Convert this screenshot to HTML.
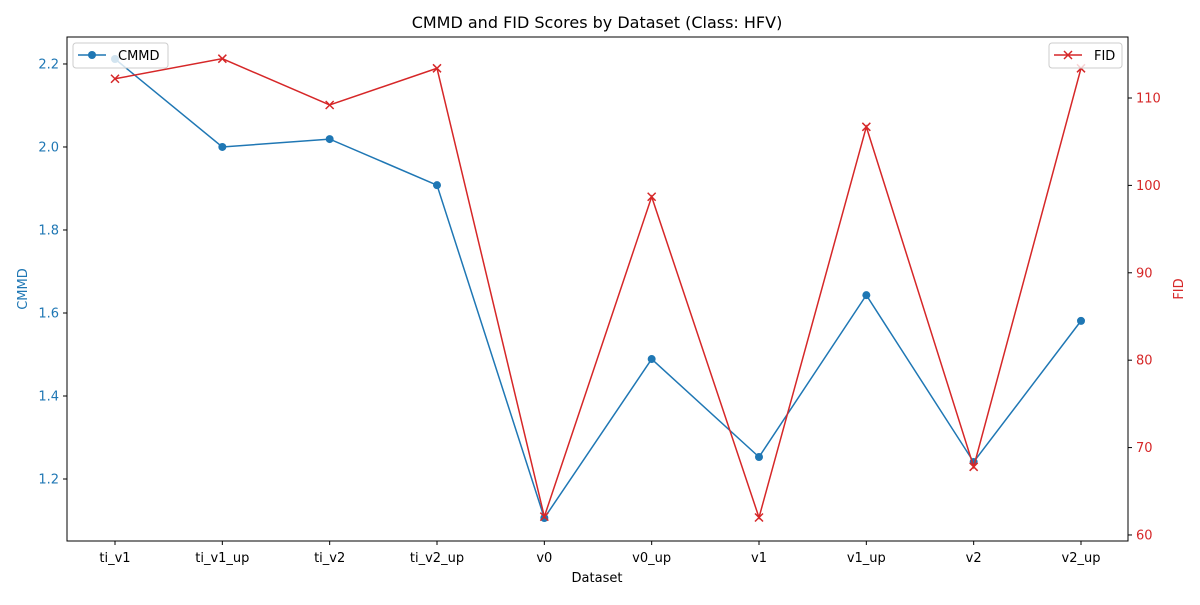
<!DOCTYPE html>
<html><head><meta charset="utf-8"><style>
body{margin:0;background:#fff;font-family:"Liberation Sans","DejaVu Sans",sans-serif;}
svg text{font-family:"DejaVu Sans","Liberation Sans",sans-serif;}
</style></head><body>
<svg id="chart" width="1200" height="600" xmlns="http://www.w3.org/2000/svg"></svg>
<script>
const categories=["ti_v1","ti_v1_up","ti_v2","ti_v2_up","v0","v0_up","v1","v1_up","v2","v2_up"];
const cmmdValues=[2.212,2.0,2.019,1.908,1.106,1.489,1.253,1.643,1.241,1.581];
const fidValues=[112.2,114.5,109.2,113.4,62.1,98.7,62.0,106.7,67.8,113.4];
const leftTicks=[1.2,1.4,1.6,1.8,2.0,2.2];
const rightTicks=[60,70,80,90,100,110];
const L=67,R=1128,T=37,B=541;
const lMin=1.0506,lMax=2.265,rMin=59.31,rMax=116.98;
const xs=i=>115+i*(1081-115)/(categories.length-1);
const yl=v=>B-(v-lMin)/(lMax-lMin)*(B-T);
const yr=v=>B-(v-rMin)/(rMax-rMin)*(B-T);
const svg=document.getElementById('chart');
const NS="http://www.w3.org/2000/svg";
function mk(tag,attrs,parent){const e=document.createElementNS(NS,tag);for(const k in attrs)e.setAttribute(k,attrs[k]);(parent||svg).appendChild(e);return e;}
function tx(x,y,s,attrs){const e=mk('text',Object.assign({x:x,y:y,'font-size':13},attrs));e.textContent=s;return e;}
const blue="#1f77b4",red="#d62728";
const frame=mk('rect',{x:L,y:T,width:R-L,height:B-T,fill:'none',stroke:'#000','stroke-width':1});


categories.forEach((c,i)=>{
 mk('line',{x1:xs(i),x2:xs(i),y1:B,y2:B+4,stroke:'#000'});
 const t=tx(xs(i),B+21,c,{'text-anchor':'middle',fill:'#000'});
 
 
});
leftTicks.forEach(v=>{
 mk('line',{x1:L-4,x2:L,y1:yl(v),y2:yl(v),stroke:'#000'});
 const t=tx(L-8,yl(v)+4.5,v.toFixed(1),{'text-anchor':'end',fill:blue});
 
 
});
rightTicks.forEach(v=>{
 mk('line',{x1:R,x2:R+4,y1:yr(v),y2:yr(v),stroke:'#000'});
 const t=tx(R+8,yr(v)+4.5,String(v),{'text-anchor':'start',fill:red});
 
 
});
const title=tx(597,28,"CMMD and FID Scores by Dataset (Class: HFV)",{'text-anchor':'middle','font-size':16});


const xt=tx(597,582,"Dataset",{'text-anchor':'middle'});


const ylt=tx(27,289,"CMMD",{'text-anchor':'middle',fill:blue,transform:'rotate(-90 27 289)'});


const yrt=tx(1183,289,"FID",{'text-anchor':'middle',fill:red,transform:'rotate(-90 1183 289)'});


const cl=mk('polyline',{points:cmmdValues.map((v,i)=>xs(i)+','+yl(v)).join(' '),fill:'none',stroke:blue,'stroke-width':1.5});


cmmdValues.forEach((v,i)=>{
 const c=mk('circle',{cx:xs(i),cy:yl(v),r:4,fill:blue});
 
 
});
const fl=mk('polyline',{points:fidValues.map((v,i)=>xs(i)+','+yr(v)).join(' '),fill:'none',stroke:red,'stroke-width':1.5});


fidValues.forEach((v,i)=>{
 const x=xs(i),y=yr(v);
 const g=mk('path',{d:`M${x-4},${y-4}L${x+4},${y+4}M${x-4},${y+4}L${x+4},${y-4}`,stroke:red,'stroke-width':1.5});
 
 
});
const lg1=mk('g',{});


mk('rect',{x:73,y:43,width:95,height:25,rx:3,fill:'#fff','fill-opacity':0.8,stroke:'#ccc'},lg1);
mk('line',{x1:78,x2:106,y1:55,y2:55,stroke:blue,'stroke-width':1.5},lg1);
mk('circle',{cx:92,cy:55,r:4,fill:blue},lg1);
const t1=mk('text',{x:118,y:60,'font-size':13},lg1);t1.textContent="CMMD";
const lg2=mk('g',{});


mk('rect',{x:1049,y:43,width:73,height:25,rx:3,fill:'#fff','fill-opacity':0.8,stroke:'#ccc'},lg2);
mk('line',{x1:1054,x2:1082,y1:55,y2:55,stroke:red,'stroke-width':1.5},lg2);
mk('path',{d:'M1064,51L1072,59M1064,59L1072,51',stroke:red,'stroke-width':1.5},lg2);
const t2=mk('text',{x:1094,y:60,'font-size':13},lg2);t2.textContent="FID";
</script>
</body></html>
